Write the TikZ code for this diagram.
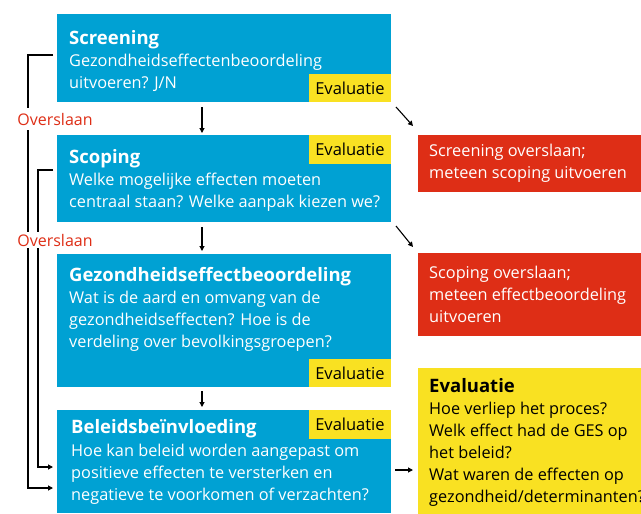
\documentclass[tikz,border=0pt]{standalone}
\usepackage{fontspec}
\setmainfont{Open Sans}
\usetikzlibrary{arrows.meta,calc}
\definecolor{roblue}{RGB}{0,161,211}
\definecolor{rored}{RGB}{222,46,22}
\definecolor{royellow}{RGB}{249,225,34}
\begin{document}
\begin{tikzpicture}[x=1pt,y=-1pt,
  box/.style={anchor=north west,inner sep=0pt,outer sep=0pt,minimum width=334pt,fill=roblue},
  side/.style={anchor=north west,inner sep=0pt,outer sep=0pt,minimum width=223pt},
  tag/.style={anchor=north west,inner sep=0pt,outer sep=0pt,minimum width=82pt,fill=royellow,font=\fontsize{16.5}{18}\selectfont},
  txt/.style={anchor=base west,inner sep=0pt,align=left,font=\fontsize{16.3}{22}\selectfont},
  ttl/.style={anchor=base west,inner sep=0pt,font=\fontsize{18.5}{22}\selectfont\bfseries},
  arr/.style={line width=1.1pt,-{Triangle[length=5pt,width=5pt]}},
  ov/.style={fill=white,text=rored,inner xsep=1pt,inner ysep=5pt,font=\fontsize{16}{18}\selectfont}]
\useasboundingbox (0,0) rectangle (641,514);
% boxes
\node[box,minimum height=88pt] (s1) at (57,14) {};
\node[box,minimum height=87pt] (s2) at (57,135) {};
\node[box,minimum height=133pt] (s3) at (57,254) {};
\node[box,minimum height=103pt] (s4) at (57,410) {};
\node[side,fill=rored,minimum height=57pt] (r1) at (418,135) {};
\node[side,fill=rored,minimum height=83pt] (r2) at (418,253) {};
\node[side,fill=royellow,minimum height=146pt] (ev) at (418,368) {};
% tags
\node[tag,minimum height=28pt] (e1) at (309,74) {Evaluatie};
\node[tag,minimum height=29pt] (e2) at (309,135) {Evaluatie};
\node[tag,minimum height=28pt] (e3) at (309,359) {Evaluatie};
\node[tag,minimum height=29pt] (e4) at (309,410) {Evaluatie};
% texts (base = baseline of last line)
\node[ttl,text=white] (t1) at (69,45) {Screening};
\node[txt,text=white] (b1) at (69,88) {Gezondheidseffectenbeoordeling\\uitvoeren? J/N};
\node[ttl,text=white] (t2) at (69,163) {Scoping};
\node[txt,text=white] (b2) at (69,207) {Welke mogelijke effecten moeten\\centraal staan? Welke aanpak kiezen we?};
\node[ttl,text=white] (t3) at (69,281) {Gezondheidseffectbeoordeling};
\node[txt,text=white] (b3) at (69,347) {Wat is de aard en omvang van de\\gezondheidseffecten? Hoe is de\\verdeling over bevolkingsgroepen?};
\node[ttl,text=white] (t4) at (71,433) {Beleidsbeïnvloeding};
\node[txt,text=white] (b4) at (71,500) {Hoe kan beleid worden aangepast om\\positieve effecten te versterken en\\negatieve te voorkomen of verzachten?};
\node[txt,text=white] (rt1) at (429,178) {Screening overslaan;\\meteen scoping uitvoeren};
\node[txt,text=white] (rt2) at (429,322) {Scoping overslaan;\\meteen effectbeoordeling\\uitvoeren};
\node[ttl,text=black] (yt) at (429,392) {Evaluatie};
\node[txt,text=black] (yb) at (429,502) {Hoe verliep het proces?\\Welk effect had de GES op\\het beleid?\\Wat waren de effecten op\\gezondheid/determinanten?};
% connectors
\draw[arr] ([xshift=145pt,yshift=-5pt]s1.south west) -- ([xshift=145pt,yshift=2pt]s2.north west);
\draw[arr] ([xshift=145pt,yshift=-5pt]s2.south west) -- ([xshift=145pt,yshift=3pt]s3.north west);
\draw[arr] ([xshift=145pt,yshift=-4pt]s3.south west) -- ([xshift=145pt,yshift=3pt]s4.north west);
\draw[arr] ([xshift=5pt,yshift=-5pt]s1.south east) -- ([xshift=-5pt,yshift=9pt]r1.north west);
\draw[arr] ([xshift=5pt,yshift=-4pt]s2.south east) -- ([xshift=-5pt,yshift=6pt]r2.north west);
\draw[arr] ([xshift=4pt,yshift=-8.5pt]s4.east) -- ([xshift=-5pt,yshift=-8.5pt]s4.east -| ev.west);
\draw[arr] ([xshift=-4pt,yshift=-41pt]s1.north west) -- ++(-25pt,0) |- ([xshift=-4pt,yshift=-26.5pt]s4.west);
\draw[arr] ([xshift=-4pt,yshift=-35pt]s2.north west) -- ++(-15pt,0) |- ([xshift=-4pt,yshift=-5.5pt]s4.west);
\node[ov] (ov1) at (55,119) {Overslaan};
\node[ov,inner ysep=2pt] (ov2) at (55,240) {Overslaan};
\end{tikzpicture}
\end{document}
